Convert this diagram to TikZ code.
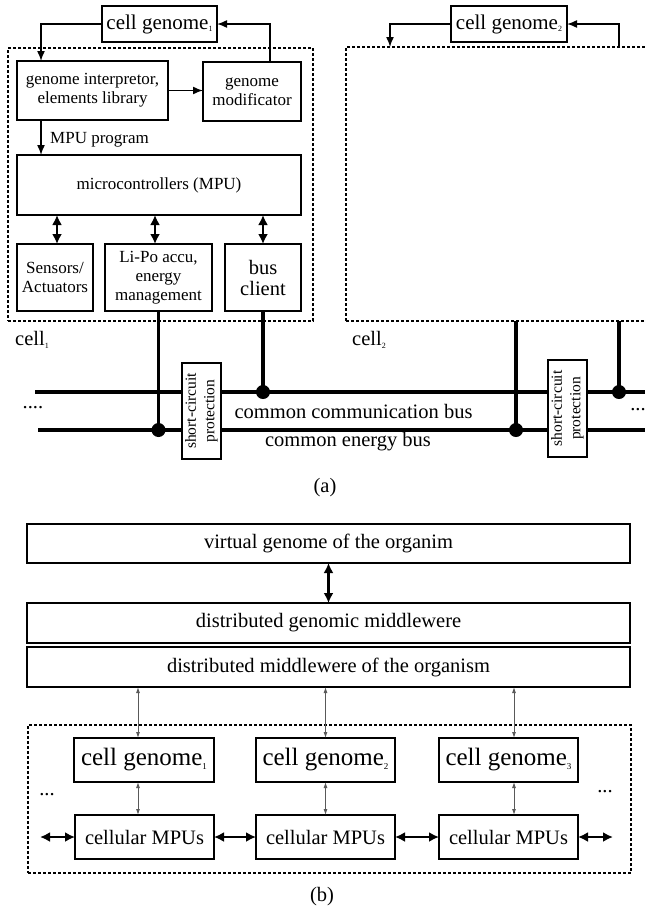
\documentclass[tikz,border=0pt]{standalone}
\usepackage{fontspec}
\setmainfont{Liberation Serif}
\usetikzlibrary{arrows.meta,calc}
\newcommand{\szS}{\fontsize{15.5}{18.5}\selectfont}
\newcommand{\szM}{\fontsize{17}{19}\selectfont}
\newcommand{\szL}{\fontsize{20.5}{21}\selectfont}
\newcommand{\szG}{\fontsize{21}{24}\selectfont}
\newcommand{\szH}{\fontsize{25}{28}\selectfont}
\newcommand{\mysub}[2][8]{\raisebox{-0.3ex}{\fontsize{#1}{#1}\selectfont #2}}
\begin{document}
\begin{tikzpicture}[x=1pt,y=-1pt,
 abox/.style={draw, line width=1.6pt, fill=white, inner sep=0pt, outer sep=0pt, anchor=north west, align=center},
 bbox/.style={draw, line width=2.2pt, fill=white, inner sep=0pt, outer sep=0pt, anchor=north west, align=center},
 dbox/.style={draw, line width=1.4pt, dash pattern=on 3pt off 2pt, inner sep=0pt, outer sep=0pt, anchor=north west},
 arr/.style={line width=1.5pt, -{Latex[length=10pt,width=8pt]}},
 darr/.style={line width=2.4pt, {Latex[length=10pt,width=10pt]}-{Latex[length=10pt,width=10pt]}},
 tarr/.style={line width=0.9pt, draw=black!65, {Latex[length=6pt,width=4pt]}-{Latex[length=6pt,width=4pt]}},
 bus/.style={line width=3.2pt},
 tap/.style={circle, fill=black, inner sep=0pt, minimum size=14pt},
 lbl/.style={inner sep=0pt},
]
\useasboundingbox (0,0) rectangle (645,911);

% ---------------- (a) ----------------
\node[dbox, minimum width=305, minimum height=273] (cell1) at (8,48) {};
\node[dbox, minimum width=320, minimum height=274] (cell2) at (346,47) {};

\node[abox, minimum width=115, minimum height=36, font=\szG] (cg1) at (102,6) {cell genome\mysub{1}};
\node[abox, minimum width=151, minimum height=59, font=\szM] (interp) at (17,61) {genome interpretor,\\elements library};
\node[abox, minimum width=98, minimum height=59, font=\szM] (modif) at (203,62) {genome\\modificator};
\node[abox, minimum width=284, minimum height=60, font=\szM] (mpu) at (17,155) {microcontrollers (MPU)};
\node[abox, minimum width=76, minimum height=67, font=\szM] (sens) at (17,244) {Sensors/\\Actuators};
\node[abox, minimum width=107, minimum height=67, font=\szM] (lipo) at (105,244) {Li-Po accu,\\energy\\management};
\node[abox, minimum width=76, minimum height=67, font=\szL] (busc) at (225,244) {bus\\client};

\node[abox, minimum width=116, minimum height=36, font=\szG] (cg2) at (451,6) {cell genome\mysub{2}};

\draw[arr] (cg1.west) -| ([xshift=24pt]interp.north west);
\draw[arr] ([xshift=67pt]modif.north west) |- (cg1.east);
\draw[arr] (interp.east) -- (interp.east -| modif.west);
\draw[arr] ([xshift=24pt]interp.south west) -- ([xshift=24pt]interp.south west |- mpu.north);
\node[lbl, anchor=west, font=\szM] (mpuprog) at (50,140) {MPU program};

\draw[darr] ([xshift=2pt]mpu.south -| sens.north) -- ([xshift=2pt]sens.north);
\draw[darr] ([xshift=-3.5pt]mpu.south -| lipo.north) -- ([xshift=-3.5pt]lipo.north);
\draw[darr] (mpu.south -| busc.north) -- (busc.north);

\draw[arr] (cg2.west) -| ([xshift=44pt]cell2.north west);
\draw[arr] ([xshift=273pt]cell2.north west) |- (cg2.east);

\node[lbl, anchor=west, font=\szL] (c1lbl) at (15,340) {cell\mysub{1}};
\node[lbl, anchor=west, font=\szL] (c2lbl) at (352,340) {cell\mysub{2}};

\coordinate (cbL) at (35,392); \coordinate (cbR) at (645,392);
\coordinate (ebL) at (38,430); \coordinate (ebR) at (645,430);
\draw[bus] (cbL) -- (cbR);
\draw[bus] (ebL) -- (ebR);

\draw[bus] (lipo.south) -- (lipo.south |- ebL) node[tap] (t1) {};
\draw[bus] (busc.south) -- (busc.south |- cbL) node[tap] (t2) {};
\draw[bus] ([xshift=170pt]cell2.south west) -- ([xshift=170pt]cell2.south west |- ebL) node[tap] (t3) {};
\draw[bus] ([xshift=273pt]cell2.south west) -- ([xshift=273pt]cell2.south west |- cbL) node[tap] (t4) {};

\node[abox, anchor=center, rotate=90, minimum width=96, minimum height=39, font=\szS] (sc1) at (201.5,411) {short-circuit\\protection};
\node[abox, anchor=center, rotate=90, minimum width=97, minimum height=39, font=\szS] (sc2) at (567.5,408.5) {short-circuit\\protection};

\node[lbl, font=\szL] (cclbl) at (353.5,411) {common communication bus};
\node[lbl, font=\szL] (eblbl) at (348,442) {common energy bus};
\node[lbl, font=\szL] (dotsL) at (33,408) {....};
\node[lbl, font=\szL] (dotsR) at (638,410) {...};
\node[lbl, font=\szL] (capa) at (325,488) {(a)};

% ---------------- (b) ----------------
\node[bbox, minimum width=603, minimum height=39, font=\szL] (vg) at (27,524) {virtual genome of the organim};
\node[bbox, minimum width=603, minimum height=40, font=\szL] (gm) at (27,603) {distributed genomic middlewere};
\node[bbox, minimum width=603, minimum height=40, font=\szL] (om) at (27,647) {distributed middlewere of the organism};
\draw[darr] (vg.south) -- (gm.north);

\node[dbox, minimum width=603, minimum height=148] (org) at (28,725) {};

\node[bbox, minimum width=140, minimum height=44, font=\szH] (cgA) at (74,738) {cell genome\mysub[9]{1}};
\node[bbox, minimum width=139, minimum height=44, font=\szH] (cgB) at (256,738) {cell genome\mysub[9]{2}};
\node[bbox, minimum width=139, minimum height=44, font=\szH] (cgC) at (439,738) {cell genome\mysub[9]{3}};
\node[bbox, minimum width=139, minimum height=44, font=\szL] (mA) at (75,815) {cellular MPUs};
\node[bbox, minimum width=139, minimum height=44, font=\szL] (mB) at (256,815) {cellular MPUs};
\node[bbox, minimum width=139, minimum height=44, font=\szL] (mC) at (439,815) {cellular MPUs};

\draw[tarr] ([xshift=-6pt]cgA.north |- om.south) -- ([xshift=-6pt]cgA.north);
\draw[tarr] (cgB.north |- om.south) -- (cgB.north);
\draw[tarr] ([xshift=5.5pt]cgC.north |- om.south) -- ([xshift=5.5pt]cgC.north);
\draw[tarr] ([xshift=-6pt]cgA.south) -- ([xshift=-6pt]cgA.south |- mA.north);
\draw[tarr] (cgB.south) -- (cgB.south |- mB.north);
\draw[tarr] ([xshift=5.5pt]cgC.south) -- ([xshift=5.5pt]cgC.south |- mC.north);

\coordinate (hL) at (40,837);
\coordinate (hR) at (613,837);
\draw[darr] (hL) -- (mA.west);
\draw[darr] (mA.east) -- (mB.west);
\draw[darr] (mB.east) -- (mC.west);
\draw[darr] (mC.east) -- (hR);

\node[lbl, font=\szL] (dotsbL) at (47,795) {...};
\node[lbl, font=\szL] (dotsbR) at (605,792) {...};
\node[lbl, font=\szL] (capb) at (322,897) {(b)};
\end{tikzpicture}
\end{document}
